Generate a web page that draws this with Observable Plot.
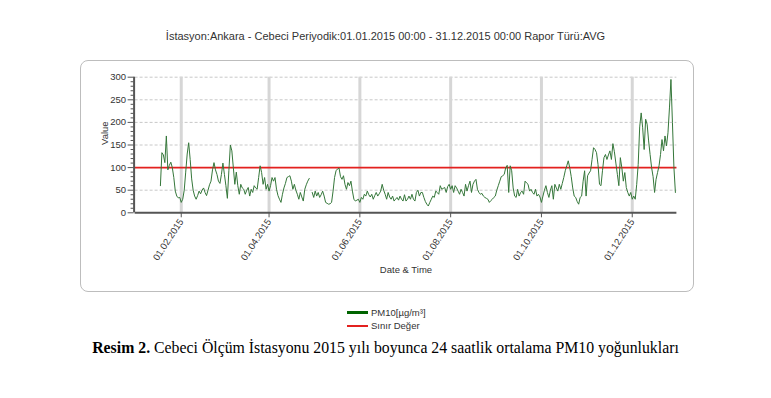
<!DOCTYPE html>
<html><head><meta charset="utf-8">
<script src="https://cdn.jsdelivr.net/npm/d3@7"></script>
<script src="https://cdn.jsdelivr.net/npm/@observablehq/plot@0.6"></script>
<style>
html,body{margin:0;padding:0;background:#fff}
body{width:771px;height:398px;position:relative;overflow:hidden;font-family:"Liberation Sans",Arial,sans-serif}
#title{position:absolute;left:0;width:771px;top:30px;text-align:center;font-size:11px;color:#333;white-space:nowrap}
#box{position:absolute;left:80px;top:60px;width:612px;height:230px;border:1.5px solid #bdbdbd;border-radius:8px}
#chart{position:absolute;left:0;top:0}
#legend{position:absolute;left:347px;top:306px;font-size:9.5px;color:#333;line-height:13px}
.row{display:flex;align-items:center;height:13px}
.sw{width:21px;margin-right:3px}
#caption{position:absolute;left:0;width:771px;top:339px;text-align:center;font-family:"Liberation Serif","Times New Roman",serif;font-size:15.8px;color:#000;white-space:nowrap}
</style></head>
<body>
<div id="title"></div>
<div id="box"></div>
<div id="chart"></div>
<div id="legend"></div>
<div id="caption"></div>
<script>
const titleText = "İstasyon:Ankara - Cebeci Periyodik:01.01.2015 00:00 - 31.12.2015 00:00 Rapor Türü:AVG";
const captionBold = "Resim 2.";
const captionText = " Cebeci Ölçüm İstasyonu 2015 yılı boyunca 24 saatlik ortalama PM10 yoğunlukları";
const seriesNames = ["PM10[µg/m³]", "Sınır Değer"];
const xLabel = "Date & Time";
const yLabel = "Value";
const xDomain = ["2015-01-01", "2015-12-31"];
const xTickDates = ["2015-02-01","2015-04-01","2015-06-01","2015-08-01","2015-10-01","2015-12-01"];
const yTicks = [0,50,100,150,200,250,300];
const yMinorTicks = [10,20,30,40,60,70,80,90,110,120,130,140,160,170,180,190,210,220,230,240,260,270,280,290];
const limitValue = 100;
const firstDay = "2015-01-18";
// daily 24-h mean PM10 values starting at firstDay (null = missing)
const pm10 = [
60,133,128,111,170,95,105,112,100,78,48,37,33,34,23,30,50,90,130,155,
118,75,50,37,30,38,48,42,50,55,45,38,50,62,70,95,111,95,85,70,
65,85,110,85,60,32,93,150,137,100,63,90,60,41,63,55,52,41,50,56,
37,52,45,60,55,52,78,104,89,63,78,52,63,48,60,78,70,78,52,38,
30,23,41,55,65,78,80,82,70,52,63,50,41,30,45,35,26,52,62,70,
76,null,45,34,48,37,45,34,40,48,37,23,21,19,20,23,48,78,93,97,
99,80,74,82,63,52,67,60,70,48,30,26,28,30,23,34,30,41,37,48,
40,35,41,30,38,45,37,42,48,63,50,41,30,45,35,30,37,26,30,34,
28,37,30,26,40,26,30,37,30,41,30,26,45,50,37,45,45,34,25,19,
15,23,30,37,34,48,45,41,60,52,54,56,45,58,63,52,60,45,60,55,
48,41,52,45,37,63,48,60,70,45,63,70,74,52,45,41,43,37,34,32,
30,23,27,30,34,37,50,60,70,80,82,85,100,105,45,104,93,55,37,34,
52,37,45,48,41,70,66,63,48,52,45,41,52,37,41,35,23,37,50,60,
45,34,50,60,30,63,55,48,63,52,65,78,93,104,115,100,80,55,37,34,
25,19,34,37,70,93,37,82,88,93,118,144,140,133,107,63,60,93,122,129,
118,128,137,118,153,135,110,85,60,122,100,70,89,56,45,37,45,30,37,30,
63,107,190,221,188,140,207,196,159,129,100,80,45,74,89,104,129,162,137,170,
148,177,232,295,200,100,45
];

const start = new Date(firstDay);
const rows = pm10.map((v, i) => ({date: d3.utcDay.offset(start, i), value: v}));
const xTicks = xTickDates.map(d => new Date(d));
const fmt = d3.utcFormat("%d.%m.%Y");
const d0 = new Date(xDomain[0]);

const chart = Plot.plot({
  width: 771, height: 293,
  marginLeft: 134.6, marginRight: 771 - 676.4, marginTop: 76.7, marginBottom: 293 - 212.3,
  style: {background: "transparent", fontFamily: "'Liberation Sans', Arial, sans-serif", fontSize: "9.5px", color: "#333", overflow: "visible"},
  x: {type: "utc", domain: xDomain.map(d => new Date(d))},
  y: {domain: [0, 300]},
  marks: [
    Plot.gridY(yTicks.slice(1), {stroke: "#c8c8c8", strokeOpacity: 1, strokeDasharray: "3,2"}),
    Plot.gridX(xTicks, {stroke: "#d6d6d6", strokeOpacity: 1, strokeWidth: 3}),
    Plot.ruleY([limitValue], {stroke: "#e3211f", strokeWidth: 1.6}),
    Plot.lineY(rows, {x: "date", y: "value", stroke: "#35773a", strokeWidth: 1}),
    Plot.ruleY([0], {stroke: "#555", strokeWidth: 2, dx: 0}),
    Plot.ruleX([d0], {y1: 0, y2: 300, stroke: "#555", strokeWidth: 2, dx: -1}),
    Plot.axisY(yTicks, {tickSize: 6, tickPadding: 2, stroke: "#555", label: null, dx: -1}),
    Plot.axisY(yMinorTicks, {tickSize: 3, text: null, label: null, stroke: "#555", dx: -1}),
    Plot.axisX(xTicks, {tickSize: 5, tickPadding: 2, tickRotate: -57, tickFormat: fmt, stroke: "#555", label: null}),
    Plot.text([xLabel], {frameAnchor: "bottom", dy: 60, fontSize: 9.5, fill: "#333"}),
    Plot.text([yLabel], {frameAnchor: "left", dx: -30, rotate: -90, fontSize: 9.5, fill: "#333"})
  ]
});
document.getElementById("chart").appendChild(chart);

document.getElementById("title").textContent = titleText;
const cap = document.getElementById("caption");
const b = document.createElement("b"); b.textContent = captionBold;
cap.appendChild(b); cap.appendChild(document.createTextNode(captionText));

const legend = document.getElementById("legend");
[["#006400", 3], ["#e3211f", 2]].forEach(([c, w], i) => {
  const r = document.createElement("div"); r.className = "row";
  const s = document.createElement("div"); s.className = "sw";
  s.style.borderTop = w + "px solid " + c;
  const t = document.createElement("span"); t.textContent = seriesNames[i];
  r.appendChild(s); r.appendChild(t); legend.appendChild(r);
});
</script>
</body></html>
